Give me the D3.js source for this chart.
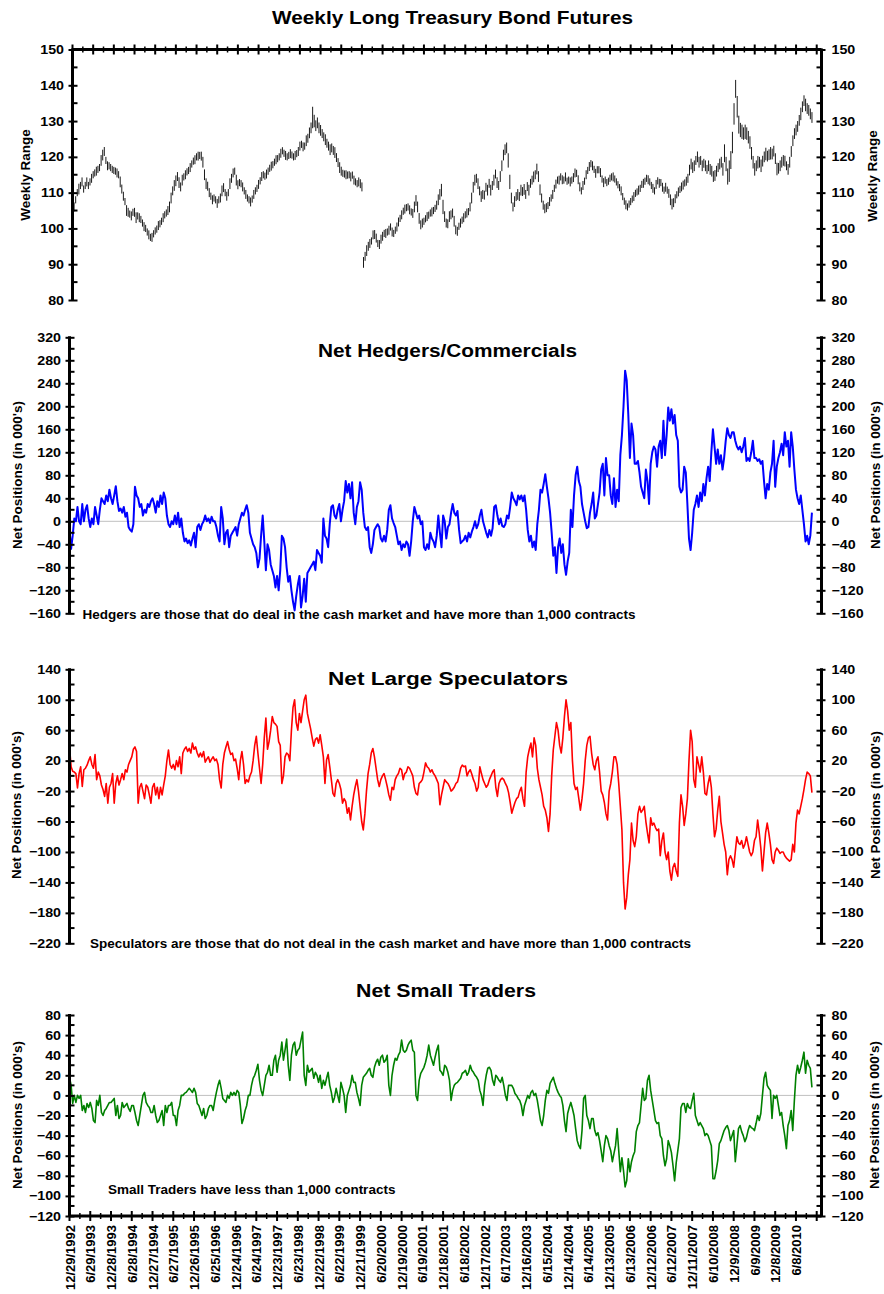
<!DOCTYPE html>
<html><head><meta charset="utf-8">
<script src="https://cdn.jsdelivr.net/npm/d3@7"></script>
<style>body{margin:0;background:#fff}svg{display:block}</style>
</head><body>
<svg id="c" width="884" height="1294"></svg>
<script>
// ---------- DATA (one value every 2 weeks from 12/29/1992; 13 values per half-year row) ----------
const tickLabels = ["12/29/1992","6/29/1993","12/28/1993","6/28/1994","12/27/1994","6/27/1995","12/26/1995","6/25/1996","12/24/1996","6/24/1997","12/23/1997","6/23/1998","12/22/1998","6/22/1999","12/21/1999","6/20/2000","12/19/2000","6/19/2001","12/18/2001","6/18/2002","12/17/2002","6/17/2003","12/16/2003","6/15/2004","12/14/2004","6/14/2005","12/13/2005","6/13/2006","12/12/2006","6/12/2007","12/11/2007","6/10/2008","12/9/2008","6/9/2009","12/8/2009","6/8/2010"];
const weekStep = 2;

const priceMid = [
104,106,108,110,111,112,113,111,112,113,112,113,114,
115,115.5,116,116.5,117,119,120.5,121.5,119,117.5,117.5,117,116.5,
116.2,116,115.5,115,113,111,109,107.5,105,104.5,104,103.5,104.5,
104.5,103,103.5,103,102.5,101.5,100.5,100,99,98.2,97.5,97.5,98.5,
99.3,99.8,100.8,101.3,102,103,103.8,104.3,105,106,108.5,110.5,112,
113.3,114.5,112.8,111.6,113.5,114.4,115,115.8,116.2,117,118,118.8,119.2,
120,120.2,120.4,120.2,118.5,115,112.5,111.8,110,109,108,108.5,108,
107,108,108.5,110.5,111.4,110,109,110,112.5,114,115.5,116,113.5,
112.2,112.8,112.5,111.6,110.5,109.5,108.5,108,107.4,108.2,109.5,110.5,111.2,
112.3,113.3,114.5,115,114.6,115.2,116,116.8,117.4,117.8,118.5,119.2,119.5,
120,121,121.7,121,120.4,120,120.4,120.9,120.5,120,120.4,120.9,121.5,
123,123.5,122.8,123,124.5,125.2,126.7,128.1,131,130,128.7,129.5,128.1,
127.4,126.5,125.6,124.8,123.8,123,122,122.5,121.8,121.2,119.8,118.4,117,
116,115.4,115.2,115,114.9,115,114.4,114.9,113.5,113,112.5,113,112.5,
111.6,90.5,92.2,93.8,95,95.8,96.5,98.2,98.3,97.3,95.8,95.5,97,
97.8,98.6,98.6,99,99.5,100.4,99,98.6,99.5,100.4,101.8,102.8,103.8,
104.8,105.4,105.8,106,105.2,104.6,104.2,106,107.8,106,102.8,101,101.5,
102,102.7,103.3,103.7,104.3,104.6,105,105.6,106.5,108,109.5,110.7,106,
103.3,101.5,101.3,103.3,103.8,104.3,102,99.6,99.2,100.6,101.5,102.3,103,
103.8,104.3,104.7,106,108.5,111.5,113.5,114,112.5,110.5,108.9,109.5,109.3,
111.5,110.7,112.6,110.7,112,113.5,115.2,112.8,112,114.5,117.5,120.5,122,
122.5,119,113,108.5,106,107.5,108.9,109.5,108.9,110.7,110.3,110.9,109.5,
111.7,110.7,112.6,113.5,114.4,115,116.6,114.5,110.8,108.5,106.5,105.5,105.8,
106.4,107.5,108.5,109.5,111.2,112.4,113.5,113.5,114.4,113.6,113.5,114.4,113.2,
113.5,113,113.5,114.2,115.5,115.4,113.6,111.6,110.5,112,113.2,115,116.2,
117.3,118.1,117.5,116.5,115.4,116.4,116.4,115.6,113.8,112.8,113.5,112.8,113.2,
114,114.4,114.4,113.8,113,112.2,111.4,110.5,108.9,107.6,106.6,106,106.8,
107.5,108.2,108.9,109.8,110.2,110.7,111.2,112.3,112.6,113.2,114,113.6,113,
112,111.2,110.5,112.3,113.3,112.6,112.8,111.5,110.7,111.5,110.7,109.8,108,
106.8,107.2,108.3,109.4,110.2,110.9,111.6,112.1,112.7,113.2,114,116.3,118,
117,117.5,119,120,118.5,119,117.5,118.2,117.5,116.5,117.5,116.5,116,
114.5,114.8,116,117,118,118.5,116.5,121,118,114.5,116,119.1,124,
132,139,134,129,127.5,127,126.5,127,126.5,125.5,124,121,118.5,
116.5,117.5,118.5,118.5,117.5,118.8,120,120.8,120.2,120.6,121,120.8,121.6,
119.5,116.6,116.8,117.5,118.5,119,118.8,117.5,116.5,118.5,121.5,124.5,126.5,
127.5,128.5,130.2,132,134,135.7,134.5,133.5,133,132,131];

const priceRange = [
2,2.5,2,2,3,2,2.5,2,2,2.5,2,2,2.5,
2,2,2.5,2,2,3,3,2.5,2,2.5,2,2,2,
2,2,2.5,2,3,2.5,2.5,2,3,2.5,2,2.5,2,
2.5,3,2,2.5,2,2,2.5,2,2,2.5,2,2.5,2,
2,2,2.5,2,2,2.5,2,2,2.5,3,3,2.5,3,
3,2.5,3,2.5,3,2,2.5,2,2,2.5,2,2,2.5,
2,2.5,2,2.5,3,3,3,2.5,2.5,2,2.5,2,2,
2.5,2,2.5,3,2.5,2,2.5,2,3,2.5,2.5,2,3,
2.5,2,2,2.5,2,2.5,2,2,2.5,2,2.5,2,2,
2.5,2,2.5,2,2,2.5,2,2,2.5,2,2,2.5,2,
2,2.5,2,2,2.5,2,2,2.5,2,2,2.5,2,2.5,
2.5,2,2.5,2,3,2.5,3,3,6,3.5,3,3,3,
3,2.5,2.5,3,2.5,2.5,3,2.5,2.5,3,2.5,2.5,3,
2.5,2,2,2.5,2,2,2.5,2,2.5,2,2,2.5,2.5,
2.5,3,2.5,3,2.5,2.5,2,2.5,2.5,2.5,2,2.5,2.5,
2.5,2,2.5,2,2.5,2,2.5,2,2,2.5,2.5,2,2.5,
2,2.5,2,2,2.5,2,2.5,3,3,3,3,2.5,2.5,
2,2,2.5,2,2,2.5,2,2,2.5,3,3,3.5,4,
3,2.5,2.5,3,2.5,2.5,3,2.5,2.5,2,2.5,2,2.5,
2,2.5,2,2.5,3,3,3,2.5,3,2.5,3,2.5,2.5,
2.5,3,2.5,3,2.5,3,2.5,3,2.5,3,3,3,3,
3,4,4,3,2.5,3,2.5,3,2.5,3,2.5,3,2.5,
2.5,3,2.5,2.5,3,2.5,3,3,3,2.5,2.5,2.5,2.5,
2,2.5,2,2.5,2,2.5,2,2.5,2,2.5,2,2.5,2,
2,2.5,2,2.5,2.5,2,2.5,2.5,2,2.5,2,2.5,2,
2.5,2,2.5,2,2.5,2,2,2.5,2,2.5,2,2,2,
2,2,2.5,2,2,2,2,2.5,2,2,2.5,2,2,
2,2,2.5,2,2,2.5,2,2,2.5,2,2,2.5,2,
2,2.5,2,2.5,2,2.5,2,2.5,2,2.5,2,2.5,3,
3,2.5,2.5,2,2.5,2,2.5,2.5,2,2.5,2.5,3,3,
3,3,2.5,3,3,2.5,3,2.5,3,2.5,3,3,3,
3,3,3,2.5,3,3,3.5,5,4,4.5,6,5,6,
6,5,6,5,4,4,3.5,4,3.5,3.5,3.5,3.5,3.5,
3.5,3,3.5,3,3.5,3,3,3.5,3,3,3.5,3,3,
3,3.5,3,3,3,3,3,2.5,3,3,3,3,3,
3,3,3,3.5,3,3,3.5,3,3,3,3];

const hedgers = [
-15,-48,-25,5,0,25,0,-5,30,0,20,28,5,
-10,5,-5,25,10,-5,20,40,35,30,45,35,55,
40,30,45,61,35,18,22,15,25,8,15,-10,-15,
-18,-5,60,45,40,25,30,10,20,15,30,25,35,
40,30,15,35,25,45,30,50,40,10,-5,-10,0,
-5,10,-5,15,-10,5,-20,-35,-30,-38,-33,-42,-30,
-20,-45,-10,-5,-15,-5,0,10,0,5,-3,8,0,
0,-10,-25,-35,25,5,-40,-20,-15,-45,-25,-20,-15,
-10,-25,-5,5,15,10,20,28,15,-20,-30,-40,-45,
-55,-80,-65,-25,10,-35,-85,-40,-50,-75,-85,-95,-115,
-95,-120,-85,-25,-30,-45,-80,-105,-95,-120,-140,-155,-130,
-110,-95,-150,-130,-100,-140,-90,-85,-80,-75,-70,-85,-50,
-55,-60,-72,5,-25,-30,-45,-5,25,28,10,5,20,
30,0,20,35,70,50,65,40,68,15,-5,25,35,
68,55,15,-10,-15,-10,-45,-55,-40,-15,-10,-5,-10,
-30,-35,-25,-35,-15,20,28,5,-3,-10,-25,-40,-35,
-50,-40,-45,-35,-40,-60,-35,0,25,15,5,10,-5,
0,-45,-50,-40,-48,-20,-30,-35,-45,-25,10,-20,-45,
10,0,-30,-10,-5,15,30,15,10,18,-15,-38,-35,
-32,-25,-35,-20,-28,-18,-10,0,-12,-5,10,20,0,
-10,-20,-28,-15,-25,-12,25,28,10,-5,5,-8,-10,
-5,10,5,25,50,40,35,28,45,38,45,35,45,
20,-15,-35,-25,-45,-35,-50,-5,20,55,50,65,82,
60,40,15,-20,-60,-45,-90,-45,-30,-55,-40,-75,-93,
-70,-55,20,-10,45,80,95,70,60,30,15,0,-12,
-10,15,30,50,5,10,30,50,90,100,45,110,80,
80,45,30,75,25,55,35,115,150,200,262,245,185,
110,170,150,100,100,105,85,60,50,40,90,70,30,
100,120,130,125,95,130,140,110,175,115,150,198,175,
195,170,185,150,140,60,50,55,95,85,30,-30,-50,
-20,20,30,45,25,50,35,65,45,75,95,70,120,
160,130,100,125,100,115,90,110,140,162,150,145,155,
155,140,130,125,130,120,130,145,105,110,105,120,140,
110,110,105,108,100,105,70,40,65,55,85,100,140,
60,95,110,120,135,115,155,130,140,95,155,130,90,
55,40,30,45,20,-5,-35,-25,-40,-25,15];

const speculators = [
38,12,6,5,3,-16,3,12,-14,8,10,14,20,
25,15,10,28,-5,5,0,-12,-18,-27,-10,-36,-15,
-10,3,-36,-10,0,-12,-5,3,-5,8,5,15,20,
25,35,38,32,-36,-15,-10,-20,-30,-12,-15,-25,-36,
-15,-10,-25,-15,-30,-15,-25,-12,0,20,34,15,10,
15,8,20,12,25,3,30,35,38,32,36,30,43,
35,38,30,25,30,25,32,18,22,25,18,22,25,
20,22,15,-5,-16,15,30,38,45,35,28,30,20,
22,10,-5,20,32,15,-10,-5,-8,0,5,20,40,
52,30,10,-10,15,50,76,35,45,60,78,70,68,
65,45,40,-10,0,25,30,28,20,60,90,100,70,
60,82,70,85,100,106,82,72,62,50,39,48,50,
43,54,40,25,-10,21,28,12,-5,-23,-27,-10,-5,
-10,-18,-36,-30,-34,-49,-42,-58,-40,-25,-14,-5,-20,
-40,-60,-71,-50,-20,3,15,30,36,25,10,-5,-14,
-5,0,3,-5,-14,-25,-32,-15,-18,-5,0,3,10,
8,-5,3,5,12,10,5,0,-15,-23,-25,-10,-8,
-5,5,17,12,10,5,8,3,0,-5,-10,-38,-25,
-15,-5,-8,-10,-14,-20,-18,-15,-10,-8,0,10,14,
12,13,0,5,8,2,-5,-10,-20,-15,12,3,-5,
-10,-15,-12,-5,0,5,8,-15,-27,-10,-5,-3,-5,
-10,-14,-22,-35,-49,-42,-35,-30,-28,-20,-15,-30,-40,
5,25,35,43,25,50,40,10,-5,-15,-25,-40,-45,
-55,-73,-50,0,34,52,70,60,40,30,50,78,100,
85,60,70,20,-10,-18,-15,-30,-45,-30,-10,20,40,
50,52,30,15,8,20,25,5,-20,-25,-35,-50,-58,
-20,-10,5,25,25,15,-10,-40,-71,-140,-175,-160,-130,
-110,-62,-85,-93,-80,-50,-40,-48,-45,-40,-60,-75,-88,
-55,-65,-62,-68,-72,-70,-105,-85,-75,-100,-110,-100,-125,
-137,-120,-115,-125,-132,-62,-25,-40,-65,-50,-30,20,60,
45,-5,-15,25,15,5,25,5,-23,-25,-10,0,-15,
-50,-80,-70,-45,-27,-60,-75,-90,-100,-130,-110,-105,-110,
-120,-100,-80,-88,-90,-85,-95,-90,-80,-90,-100,-105,-100,
-85,-80,-58,-75,-95,-125,-100,-75,-62,-75,-90,-110,-115,
-100,-95,-98,-102,-100,-100,-105,-108,-110,-112,-110,-90,-100,
-62,-45,-50,-40,-30,-18,-5,5,3,0,-22];

const smallTraders = [
18,10,-8,0,-7,0,-3,0,-15,-10,-17,-8,-12,
-7,-13,-25,-27,-5,-10,0,-17,-20,-15,-13,-10,-7,
-7,-5,-3,-20,-10,-23,-20,-7,-12,-10,-8,-13,-16,
-10,-10,-17,-25,-30,-20,-10,0,3,-7,-10,-12,-17,
-17,-10,-20,-27,-25,-20,-15,-30,-10,-17,-10,-10,-7,
-20,-20,-30,-15,-10,0,0,2,3,5,7,5,3,
7,3,-8,-10,-15,-20,-13,-23,-20,-13,-10,-10,-15,
-5,3,10,15,7,-3,-5,-7,0,-3,3,0,3,
0,5,3,-10,-28,-23,-15,-10,0,0,10,17,20,
25,31,15,5,0,10,20,23,30,20,20,35,40,
23,35,40,53,35,45,56,30,15,40,50,53,40,
45,47,55,63,20,10,30,23,25,27,17,23,20,
13,20,7,15,10,17,23,10,3,-7,-2,7,0,
-7,13,7,0,-17,0,5,10,20,13,13,3,-3,
-10,10,18,20,22,25,27,20,18,28,33,36,30,
38,40,33,35,40,10,0,20,30,37,35,40,43,
55,45,43,45,50,53,55,45,43,0,-5,15,22,
25,28,33,40,50,40,35,30,38,45,50,25,23,
20,30,28,23,15,-5,5,10,12,13,15,17,22,
23,25,20,23,30,25,23,20,18,15,5,0,-10,
10,20,27,28,25,15,10,20,18,15,13,18,10,
0,-5,10,10,10,7,2,0,-3,-5,-10,-20,-10,
-5,0,-3,3,5,0,2,-5,-15,-25,-30,-20,-5,
5,2,12,15,18,12,7,3,0,-2,-10,-25,-36,
-18,-12,-7,-13,-20,-33,-45,-50,-53,-35,-3,0,-20,
-25,-33,-23,-23,-35,-40,-37,-45,-55,-66,-50,-40,-43,
-50,-55,-66,-58,-50,-33,-55,-76,-62,-75,-91,-85,-63,
-76,-66,-60,-56,-36,-30,-27,-10,7,-5,-3,15,20,
5,-5,-15,-25,-28,-27,-40,-43,-60,-70,-63,-45,-50,
-57,-70,-85,-67,-55,-43,-12,-8,-8,-17,-8,-12,-13,
-5,2,-20,-25,-30,-27,-30,-33,-40,-38,-40,-45,-50,
-83,-83,-75,-65,-48,-45,-40,-35,-32,-30,-35,-45,-40,
-35,-66,-50,-33,-30,-36,-40,-46,-42,-35,-30,-32,-33,
-35,-28,-20,-25,-18,0,17,23,10,7,5,-23,0,
-3,0,-10,-20,-17,-30,-40,-53,-30,-25,-15,-35,-5,
20,30,22,28,35,43,22,35,30,27,8];

const priceTicks = [80,90,100,110,120,130,140,150];
const hedgerTicks = [-160,-120,-80,-40,0,40,80,120,160,200,240,280,320];
const specTicks = [-220,-180,-140,-100,-60,-20,20,60,100,140];
const smallTicks = [-120,-100,-80,-60,-40,-20,0,20,40,60,80];

// ---------- DRAWING ----------
const FONT = "'Liberation Sans', Arial, Helvetica, sans-serif";
const svg = d3.select("#c");
const XR = 821.5, WEEKS = 942;
const makeX = left => d3.scaleLinear().domain([0, WEEKS]).range([left, XR]);

function txt(sel, size){
  return sel.attr("font-family", FONT).attr("font-weight","bold").attr("font-size", size).attr("fill","#000");
}

function yAxes(y, left, majors, step){
  const top = y.range()[1], bot = y.range()[0];
  const dom = y.domain();
  const minors = d3.range(dom[0] + step/2, dom[1], step);
  [[left,-1],[XR,1]].forEach(([ax, dir]) => {
    const axis = (dir < 0 ? d3.axisLeft(y) : d3.axisRight(y))
      .tickValues(majors).tickSizeInner(4).tickSizeOuter(0)
      .tickPadding(dir < 0 ? 4.5 : 6).tickFormat(d3.format("d"));
    const g = svg.append("g").attr("transform", `translate(${ax},0)`).call(axis);
    g.attr("font-size", null).attr("font-family", null);
    g.select(".domain").remove();
    g.selectAll(".tick line").attr("x1", -dir * 5).attr("stroke", "#000").attr("stroke-width", 2);
    txt(g.selectAll(".tick text"), 12.5).each(function(){
      const w = this.getComputedTextLength();
      d3.select(this).attr("textLength", w * 1.14).attr("lengthAdjust", "spacingAndGlyphs");
    });
    svg.append("g").selectAll("line").data(minors).join("line")
      .attr("x1", ax).attr("x2", ax - dir * 5)
      .attr("y1", d => y(d)).attr("y2", d => y(d))
      .attr("stroke", "#000").attr("stroke-width", 2);
    svg.append("line").attr("x1", ax).attr("x2", ax).attr("y1", top - 1).attr("y2", bot + 1)
      .attr("stroke", "#000").attr("stroke-width", 3);
  });
}

function xTickLine(x, yPos){
  svg.append("line").attr("x1", x.range()[0]).attr("x2", XR).attr("y1", yPos).attr("y2", yPos)
    .attr("stroke", "#000").attr("stroke-width", 3);
  svg.append("g").selectAll("line").data(d3.range(0, WEEKS, 26)).join("line")
    .attr("x1", d => x(d)).attr("x2", d => x(d)).attr("y1", yPos - 5).attr("y2", yPos + 5)
    .attr("stroke", "#000").attr("stroke-width", 2);
  svg.append("g").selectAll("line").data(d3.range(13, WEEKS, 26)).join("line")
    .attr("x1", d => x(d)).attr("x2", d => x(d)).attr("y1", yPos - 3).attr("y2", yPos + 3)
    .attr("stroke", "#000").attr("stroke-width", 1.5);
}

function zeroLine(x, y){
  svg.append("line").attr("x1", x.range()[0]).attr("x2", XR).attr("y1", y(0)).attr("y2", y(0))
    .attr("stroke", "#c0c0c0").attr("stroke-width", 1);
}

function title(t, cx, by, len){
  txt(svg.append("text"), 18).attr("x", cx).attr("y", by).attr("text-anchor", "middle")
    .attr("textLength", len).attr("lengthAdjust", "spacingAndGlyphs").text(t);
}
function note(t, x0, by){
  txt(svg.append("text"), 13.5).attr("x", x0).attr("y", by).text(t);
}
function yTitle(t, bx, cy){
  txt(svg.append("text"), 13.5).attr("transform", `translate(${bx},${cy}) rotate(-90)`)
    .attr("text-anchor", "middle").text(t);
}
function series(data, x, y, color, w){
  svg.append("path").datum(data)
    .attr("d", d3.line().x((d, i) => x(i * weekStep)).y(d => y(d)))
    .attr("fill", "none").attr("stroke", color).attr("stroke-width", w).attr("stroke-linejoin", "round");
}

// Panel 1: price weekly range
const x1 = makeX(72.5);
const y1 = d3.scaleLinear().domain([80, 150]).range([300, 49.5]);
title("Weekly Long Treasury Bond Futures", 452.5, 23.5, 361);
svg.append("g").selectAll("line").data(priceMid).join("line")
  .attr("x1", (d, i) => x1(i * weekStep)).attr("x2", (d, i) => x1(i * weekStep))
  .attr("y1", (d, i) => y1(d - priceRange[i] / 2)).attr("y2", (d, i) => y1(d + priceRange[i] / 2))
  .attr("stroke", "#000").attr("stroke-width", 0.9);
yAxes(y1, 72.5, priceTicks, 10);
xTickLine(x1, 49.5);
yTitle("Weekly Range", 30, 175);
yTitle("Weekly Range", 877, 176);

// Panel 2: hedgers
const x2 = makeX(69.5);
const y2 = d3.scaleLinear().domain([-160, 320]).range([613.3, 337.3]);
zeroLine(x2, y2);
series(hedgers, x2, y2, "#0000ff", 2);
yAxes(y2, 69.5, hedgerTicks, 40);
title("Net Hedgers/Commercials", 447.5, 357, 259);
note("Hedgers are those that do deal in the cash market and have more than 1,000 contracts", 82.5, 619);
yTitle("Net Positions (in 000's)", 21.5, 475);
yTitle("Net Positions (in 000's)", 880, 475);

// Panel 3: large speculators
const x3 = makeX(69.5);
const y3 = d3.scaleLinear().domain([-220, 140]).range([943.3, 669.3]);
zeroLine(x3, y3);
series(speculators, x3, y3, "#ff0000", 1.6);
yAxes(y3, 69.5, specTicks, 40);
title("Net Large Speculators", 448, 684.5, 240);
note("Speculators are those that do not deal in the cash market and have more than 1,000 contracts", 90, 947.5);
yTitle("Net Positions (in 000's)", 21, 805);
yTitle("Net Positions (in 000's)", 880, 805);

// Panel 4: small traders
const x4 = makeX(69.5);
const y4 = d3.scaleLinear().domain([-120, 80]).range([1216, 1015]);
zeroLine(x4, y4);
series(smallTraders, x4, y4, "#008000", 1.6);
yAxes(y4, 69.5, smallTicks, 20);
title("Net Small Traders", 446, 997, 180);
note("Small Traders have less than 1,000 contracts", 108, 1193.5);
yTitle("Net Positions (in 000's)", 21.5, 1115);
yTitle("Net Positions (in 000's)", 879, 1115);

xTickLine(x4, 1216);
const gx = svg.append("g").attr("transform", "translate(0,1216)")
  .call(d3.axisBottom(x4).tickValues(tickLabels.map((d, i) => i * 26)).tickSize(0)
        .tickFormat((d, i) => tickLabels[i]));
gx.attr("font-size", null).attr("font-family", null);
gx.select(".domain").remove();
txt(gx.selectAll(".tick text"), 13)
  .attr("transform", "rotate(-90)").attr("text-anchor", "end")
  .attr("x", -9).attr("y", 0).attr("dy", "0.35em");
</script>
</body></html>
